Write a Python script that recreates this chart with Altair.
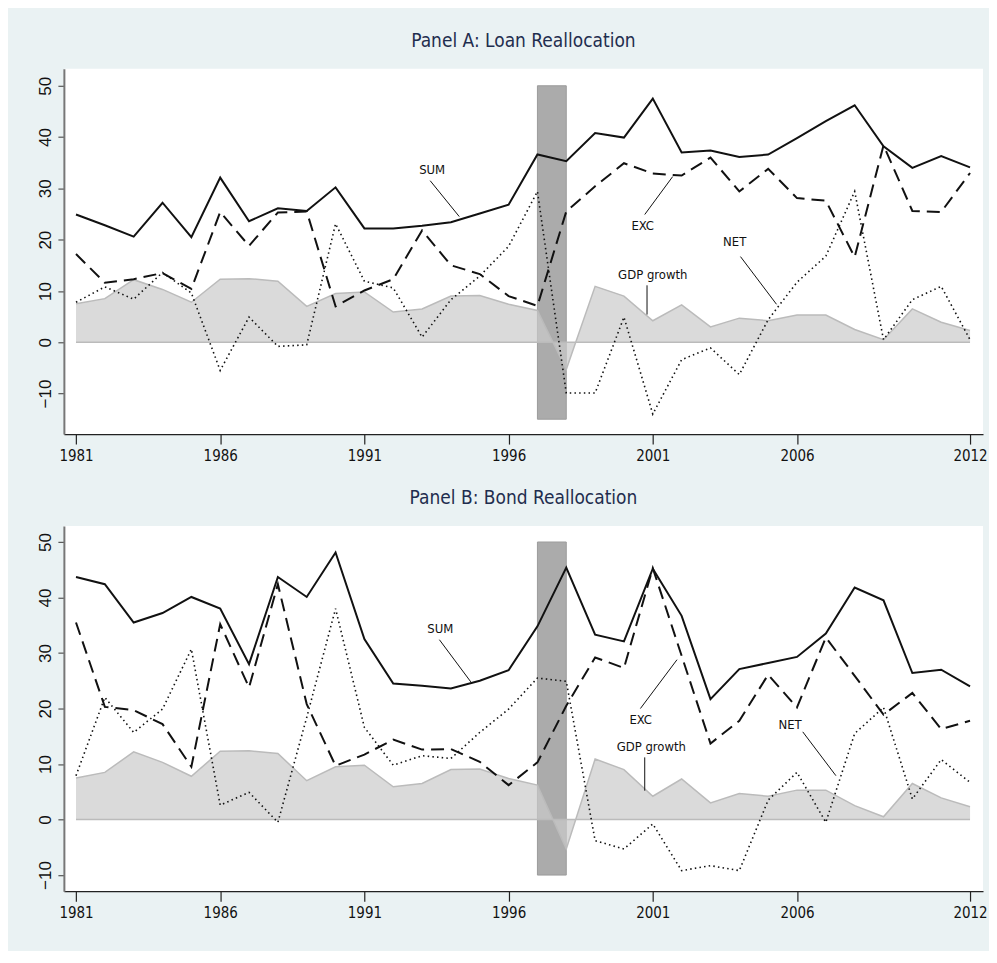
import altair as alt
import pandas as pd

years = list(range(1981, 2013))
gdp = [7.5, 8.5, 12.2, 10.3, 7.8, 12.3, 12.4, 11.9, 7.0, 9.5, 9.8, 5.9, 6.5, 9.0, 9.1, 7.4,
       6.2, -5.3, 10.9, 9.0, 4.2, 7.3, 3.0, 4.7, 4.2, 5.3, 5.3, 2.5, 0.5, 6.5, 3.9, 2.3]

sum_a = [24.9, 22.8, 20.6, 27.2, 20.5, 32.1, 23.6, 26.1, 25.6, 30.2, 22.2, 22.2, 22.7, 23.4, 25.1, 26.8,
         36.6, 35.3, 40.8, 39.9, 47.5, 37.0, 37.4, 36.1, 36.6, 39.8, 43.1, 46.2, 38.2, 34.0, 36.3, 34.1]
exc_a = [17.2, 11.6, 12.3, 13.5, 10.4, 25.4, 18.8, 25.3, 25.5, 7.0, 10.1, 12.3, 21.8, 15.0, 13.3, 9.0,
         7.1, 25.5, 30.4, 34.9, 32.9, 32.5, 36.0, 29.4, 33.8, 28.1, 27.6, 16.6, 38.4, 25.6, 25.4, 33.0]
net_a = [7.8, 10.8, 8.4, 13.6, 9.6, -5.5, 4.9, -0.8, -0.5, 23.1, 11.9, 10.6, 1.0, 8.3, 12.9, 18.7,
         29.4, -9.9, -9.9, 4.9, -14.0, -3.4, -1.1, -6.3, 4.4, 11.7, 16.8, 29.4, 0.5, 8.3, 10.9, 0.5]

sum_b = [43.7, 42.4, 35.5, 37.2, 40.1, 38.0, 28.0, 43.7, 40.1, 48.1, 32.5, 24.5, 24.1, 23.6, 25.0, 26.9,
         34.8, 45.4, 33.3, 32.1, 45.2, 36.7, 21.7, 27.1, 28.2, 29.3, 33.5, 41.8, 39.5, 26.4, 27.0, 24.0]
exc_b = [35.5, 20.3, 19.7, 17.2, 9.5, 35.2, 23.8, 42.4, 20.8, 9.7, 11.7, 14.4, 12.6, 12.7, 10.4, 6.2,
         10.3, 20.5, 29.2, 27.3, 45.3, 29.5, 13.7, 17.8, 26.1, 20.2, 32.8, 25.9, 18.9, 22.8, 16.3, 17.8]
net_b = [7.9, 22.0, 15.7, 19.9, 30.7, 2.6, 4.9, -0.5, 18.4, 38.0, 16.6, 9.8, 11.5, 11.0, 15.7, 19.9,
         25.5, 24.9, -3.8, -5.3, -0.8, -9.2, -8.3, -9.2, 3.5, 8.5, -0.5, 15.5, 20.2, 3.7, 10.8, 6.7]

x_ticks = [1981, 1986, 1991, 1996, 2001, 2006, 2012]
y_ticks = [-10, 0, 10, 20, 30, 40, 50]

crisis_start = [1997]
crisis_end = [1998]
crisis_top = [50]
crisis_low_a = [-15]
crisis_low_b = [-10]

ann_labels = ["SUM", "EXC", "NET", "GDP growth"]
# panel A annotation: text position and leader line
ann_a_tx = [1993.35, 2000.65, 2003.84, 2001.0]
ann_a_ty = [33.5, 22.6, 19.5, 13.2]
ann_a_x1 = [1993.28, 2000.72, 2004.04, 2000.8]
ann_a_y1 = [31.5, 24.9, 16.7, 11.1]
ann_a_x2 = [1994.29, 2001.69, 2005.29, 2000.8]
ann_a_y2 = [24.5, 32.3, 7.4, 5.4]
# panel B
ann_b_tx = [1993.63, 2000.58, 2005.76, 2000.95]
ann_b_ty = [34.4, 18.0, 17.1, 13.1]
ann_b_x1 = [1993.6, 2000.57, 2006.2, 2000.72]
ann_b_y1 = [32.4, 20.0, 15.8, 11.2]
ann_b_x2 = [1994.69, 2001.84, 2007.35, 2000.72]
ann_b_y2 = [24.8, 28.8, 7.9, 5.2]

NARROW = "Liberation Sans Narrow, Arial Narrow, DejaVu Sans Condensed, Liberation Sans, Arial, sans-serif"
REG = "Liberation Sans, Arial, Helvetica, sans-serif"


def panel(title, s, e, n, ydom, low, tx, ty, x1, y1, x2, y2):
    df = pd.DataFrame({"year": years, "SUM": s, "EXC": e, "NET": n, "GDP": gdp,
                       "base": [0] * len(years)})
    xs = alt.Scale(domain=[1980.58, 2012.45], nice=False, zero=False)
    ys = alt.Scale(domain=ydom, nice=False, zero=False)
    xax = alt.Axis(values=x_ticks, format="d", title=None, grid=False, domainColor="#222",
                   domainWidth=1.3, tickColor="#222", tickWidth=1.2, tickSize=10,
                   labelFont=NARROW, labelFontSize=15, labelColor="#111", labelPadding=4,
                   labelFlush=False)
    yax = alt.Axis(values=y_ticks, format="d", title=None, grid=False, domainColor="#777",
                   domainWidth=2, tickColor="#555", tickWidth=1.2, tickSize=6,
                   labelFont=REG, labelFontSize=17, labelColor="#111", labelAngle=270,
                   labelAlign="center", labelBaseline="bottom", labelPadding=3)

    def X(f):
        return alt.X(f, type="quantitative", scale=xs, axis=xax)

    def Y(f):
        return alt.Y(f, type="quantitative", scale=ys, axis=yax)

    bdf = pd.DataFrame({"x": crisis_start, "x2": crisis_end, "y": low, "y2": crisis_top})
    bar = alt.Chart(bdf).mark_rect(fill="#ababab", stroke="#9c9c9c", strokeWidth=1).encode(
        x=X("x"), x2="x2", y=Y("y"), y2="y2")
    base = alt.Chart(df)
    area = base.mark_area(color="#cbcbcb", line={"color": "#bbbbbb", "strokeWidth": 1.5}).encode(
        x=X("year"), y=Y("GDP"), y2="base")
    rdf = pd.DataFrame({"x": [years[0]], "x2": [years[-1]], "y": [0]})
    zero = alt.Chart(rdf).mark_rule(color="#bbbbbb", strokeWidth=1.5).encode(
        x=X("x"), x2="x2", y=Y("y"))
    net = base.mark_line(color="#111", strokeWidth=1.6, strokeDash=[1.5, 3.2]).encode(
        x=X("year"), y=Y("NET"))
    exc = base.mark_line(color="#111", strokeWidth=2, strokeDash=[13, 7]).encode(
        x=X("year"), y=Y("EXC"))
    sm = base.mark_line(color="#111", strokeWidth=2).encode(x=X("year"), y=Y("SUM"))
    adf = pd.DataFrame({"label": ann_labels, "tx": tx, "ty": ty, "x1": x1, "y1": y1,
                        "x2": x2, "y2": y2})
    lead = alt.Chart(adf).mark_rule(color="#111", strokeWidth=1).encode(
        x=X("x1"), x2="x2", y=Y("y1"), y2="y2")
    txt = alt.Chart(adf).mark_text(font=NARROW, fontSize=13, color="#111", align="center",
                                   baseline="middle").encode(x=X("tx"), y=Y("ty"), text="label")
    return alt.layer(bar, area, zero, net, exc, sm, lead, txt).properties(
        width=921, height=366,
        title=alt.TitleParams(title, font=NARROW, fontSize=19, fontWeight="normal",
                              color="#1f2d4e", offset=18, anchor="middle"))


pa = panel("Panel A: Loan Reallocation", sum_a, exc_a, net_a, [-17.9, 53.3], crisis_low_a,
           ann_a_tx, ann_a_ty, ann_a_x1, ann_a_y1, ann_a_x2, ann_a_y2)
pb = panel("Panel B: Bond Reallocation", sum_b, exc_b, net_b, [-12.9, 52.9], crisis_low_b,
           ann_b_tx, ann_b_ty, ann_b_x1, ann_b_y1, ann_b_x2, ann_b_y2)

chart = alt.vconcat(pa, pb, spacing=26).properties(
    background="#eaf2f3",
    padding={"left": 28, "top": 23, "right": 1, "bottom": 30},
).configure_view(stroke=None, fill="white")

chart.save("out.html", embed_options={"renderer": "svg", "actions": False})
